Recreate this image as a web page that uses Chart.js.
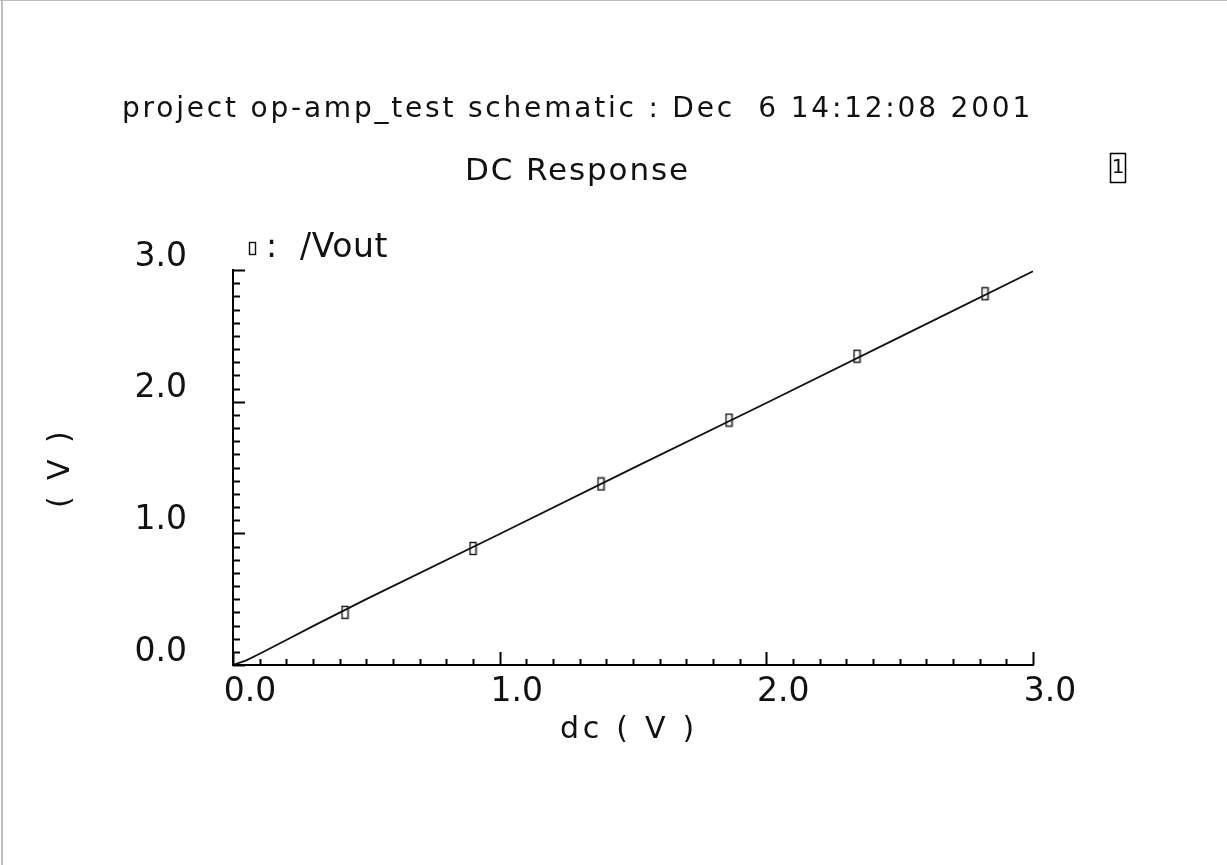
<!DOCTYPE html>
<html>
<head>
<meta charset="utf-8">
<script src="https://cdn.jsdelivr.net/npm/chart.js@4/dist/chart.umd.min.js"></script>
<style>
html, body { margin: 0; padding: 0; background: #fff; }
#wrap { width: 1227px; height: 865px; position: relative; }
</style>
</head>
<body>
<div id="wrap"><canvas id="myChart" width="1227" height="865"></canvas></div>
<script>
// sweep of the dc source and the /Vout response
var sweepX = [0, 0.05, 0.1, 0.2, 0.3, 0.5, 1.0, 1.5, 2.0, 2.5, 3.0];
var voutY  = [0, 0.035, 0.085, 0.19, 0.295, 0.5, 0.995, 1.495, 1.99, 2.49, 2.99];
// marker positions along the trace
var markX = [0.42, 0.9, 1.38, 1.86, 2.34, 2.82];
var markY = [0.40, 0.885, 1.375, 1.86, 2.345, 2.82];

var titleText = 'project op-amp_test schematic : Dec  6 14:12:08 2001';
var subTitleText = 'DC Response';
var seriesName = '/Vout';
var xTitle = 'dc ( V )';
var yTitle = '( V )';
var boxText = '1';

function isMajor(v) { return Math.abs(v - Math.round(v)) < 1e-6; }
function fmt(v) { return isMajor(v) ? Number(v).toFixed(1) : ''; }

// little open rectangle used as the trace marker
var markImg = document.createElement('canvas');
markImg.width = 9; markImg.height = 15;
(function() {
    var c = markImg.getContext('2d');
    c.fillStyle = '#fff';
    c.fillRect(1.5, 1.5, 6, 12);
    c.strokeStyle = '#111';
    c.lineWidth = 1.4;
    c.strokeRect(1.5, 1.5, 6, 12);
})();

function drawSpaced(ctx, text, left, base, width, font) {
    ctx.font = font;
    ctx.letterSpacing = '0px';
    var natural = ctx.measureText(text).width;
    var ls = (width - natural) / text.length;
    ctx.letterSpacing = ls + 'px';
    ctx.fillText(text, left, base);
    ctx.letterSpacing = '0px';
}

var decor = {
    id: 'decor',
    afterDraw: function(chart) {
        var ctx = chart.ctx, xs = chart.scales.x, ys = chart.scales.y;
        ctx.save();
        // window frame
        ctx.fillStyle = '#bdbdbd';
        ctx.fillRect(0, 0, 1227, 1);
        ctx.fillRect(1, 0, 2, 865);

        // inward tick marks
        ctx.strokeStyle = '#000';
        ctx.lineWidth = 2;
        xs.ticks.forEach(function(t) {
            var px = Math.round(xs.getPixelForValue(t.value)) + 0.5;
            var len = isMajor(t.value) ? 13 : 6;
            ctx.beginPath();
            ctx.moveTo(px, ys.bottom);
            ctx.lineTo(px, ys.bottom - len);
            ctx.stroke();
        });
        ys.ticks.forEach(function(t) {
            var py = Math.round(ys.getPixelForValue(t.value)) + 0.5;
            var len = isMajor(t.value) ? 12 : 7;
            ctx.beginPath();
            ctx.moveTo(xs.left, py);
            ctx.lineTo(xs.left + len, py);
            ctx.stroke();
        });

        ctx.fillStyle = '#111';
        ctx.textAlign = 'left';
        ctx.textBaseline = 'alphabetic';
        drawSpaced(ctx, titleText, 122, 117, 911, '28px "DejaVu Sans"');
        drawSpaced(ctx, subTitleText, 465, 180, 225, '31px "DejaVu Sans"');

        // legend
        ctx.drawImage(markImg, 248, 241);
        drawSpaced(ctx, ':', 266, 257, 8, '33px "DejaVu Sans"');
        drawSpaced(ctx, seriesName, 300, 257, 88, '33px "DejaVu Sans"');

        // axis titles
        drawSpaced(ctx, xTitle, 560, 738, 138, '30px "DejaVu Sans"');
        ctx.save();
        ctx.translate(69, 468);
        ctx.rotate(-Math.PI / 2);
        drawSpaced(ctx, yTitle, -40, 0, 80, '30px "DejaVu Sans"');
        ctx.restore();

        // window number box
        ctx.lineWidth = 1.5;
        ctx.strokeRect(1110.5, 153.5, 15, 29);
        ctx.textAlign = 'center';
        ctx.font = '20px "DejaVu Sans"';
        ctx.fillText(boxText, 1118, 173);
        ctx.restore();
    }
};

var ctx = document.getElementById('myChart').getContext('2d');
var myChart = new Chart(ctx, {
    type: 'line',
    data: {
        datasets: [{
            label: seriesName,
            data: sweepX.map(function(x, i) { return {x: x, y: voutY[i]}; }),
            borderColor: '#111',
            borderWidth: 1.8,
            pointRadius: 0,
            tension: 0,
            fill: false
        }, {
            label: seriesName + ' markers',
            data: markX.map(function(x, i) { return {x: x, y: markY[i]}; }),
            showLine: false,
            pointStyle: markImg,
            pointRadius: 6
        }]
    },
    options: {
        responsive: false,
        animation: false,
        layout: { padding: { left: 0, right: 194, top: 270, bottom: 115 } },
        plugins: { legend: { display: false }, tooltip: { enabled: false } },
        scales: {
            x: {
                type: 'linear', min: 0, max: 3,
                grid: { display: false, drawTicks: false },
                border: { display: true, color: '#000', width: 2 },
                ticks: {
                    stepSize: 0.1, autoSkip: false, maxRotation: 0,
                    padding: 8, labelOffset: 17, color: '#111',
                    font: { family: 'DejaVu Sans', size: 33 },
                    callback: fmt
                },
                afterFit: function(s) { s.height = 85; }
            },
            y: {
                type: 'linear', min: 0, max: 3,
                grid: { display: false, drawTicks: false },
                border: { display: true, color: '#000', width: 2 },
                ticks: {
                    stepSize: 0.1, autoSkip: false,
                    padding: 46, labelOffset: -13, color: '#111',
                    font: { family: 'DejaVu Sans', size: 33 },
                    callback: fmt
                },
                afterFit: function(s) { s.width = 233; }
            }
        }
    },
    plugins: [decor]
});
</script>
</body>
</html>
